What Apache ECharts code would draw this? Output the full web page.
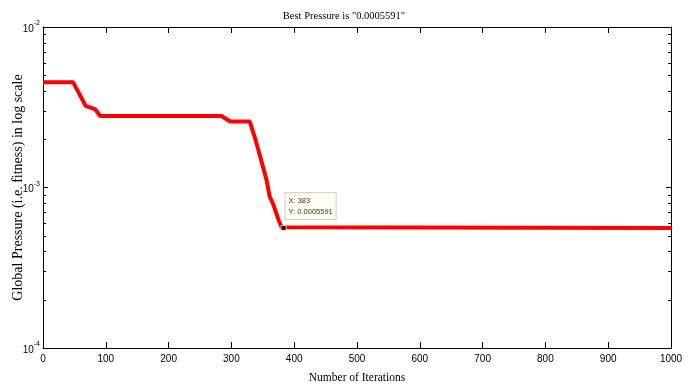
<!DOCTYPE html>
<html>
<head>
<meta charset="utf-8">
<script src="https://cdn.jsdelivr.net/npm/echarts@6/dist/echarts.min.js"></script>
<style>
  html, body { margin: 0; padding: 0; background: #fff; }
  #chart { width: 688px; height: 387px; }
</style>
</head>
<body>
<div id="chart"></div>
<script>
// Convergence history: best global pressure per iteration (log scale)
const iterations = [0, 48, 68, 75, 83, 91, 284, 298, 329, 337, 345, 348, 356, 361, 367, 375, 380, 383, 1000];
const bestPressure = [0.00452, 0.00452, 0.00322, 0.00316, 0.00307, 0.00279, 0.00279, 0.00258, 0.00258,
                      0.00207, 0.00160, 0.00145, 0.00111, 0.000877, 0.000778, 0.000628, 0.000565, 0.0005591, 0.0005591];

// Data tip at the best value
const tipIteration = 383;
const tipValue = 0.0005591;

// Axis ranges and ticks
const xMin = 0, xMax = 1000, xStep = 100;
const yMin = 1e-4, yMax = 1e-2;
const yDecades = [-4, -3, -2];
const yMinorMultipliers = [2, 3, 4, 5, 6, 7, 8, 9];

const titleText = 'Best Pressure is "0.0005591"';
const xName = 'Number of Iterations';
const yName = 'Global Pressure (i.e. fitness) in log scale';

const lineData = iterations.map((x, i) => [x, bestPressure[i]]);

// minor tick values between decades (2..9 x 10^k), one item per frame edge
const minorTickItems = [];
for (let k = yDecades[0]; k < yDecades[yDecades.length - 1]; k++) {
  yMinorMultipliers.forEach(m => {
    const v = m * Math.pow(10, k);
    minorTickItems.push([xMin, v]);
    minorTickItems.push([xMax, v]);
  });
}

const serif = '"Liberation Serif", "Times New Roman", serif';
const sans = '"Liberation Sans Narrow", "Liberation Sans", Arial, sans-serif';

const chart = echarts.init(document.getElementById('chart'), null, { renderer: 'canvas' });

const axisLine = { show: true, onZero: false, lineStyle: { color: '#000', width: 1 } };

chart.setOption({
  backgroundColor: '#fff',
  animation: false,
  title: {
    text: titleText,
    left: 'center',
    top: 6,
    textStyle: { fontFamily: serif, fontSize: 10.5, fontWeight: 'normal', color: '#000' }
  },
  grid: { left: 43, right: 17, top: 27, bottom: 39, containLabel: false, outerBoundsMode: 'none' },
  xAxis: [
    {
      type: 'value', min: xMin, max: xMax, interval: xStep,
      position: 'bottom',
      name: xName, nameLocation: 'middle', nameGap: 24, nameMoveOverlap: false,
      nameTextStyle: { fontFamily: serif, fontSize: 11.5, color: '#000' },
      axisLine: axisLine,
      axisTick: { show: true, inside: true, length: 6, lineStyle: { color: '#000' } },
      axisLabel: { fontFamily: sans, fontSize: 10, color: '#000', margin: 6, formatter: v => String(v) },
      splitLine: { show: false }
    },
    {
      type: 'value', min: xMin, max: xMax, interval: xStep,
      position: 'top',
      axisLine: axisLine,
      axisTick: { show: true, inside: true, length: 6, lineStyle: { color: '#000' } },
      axisLabel: { show: false },
      splitLine: { show: false }
    }
  ],
  yAxis: [
    {
      type: 'log', logBase: 10, min: yMin, max: yMax,
      position: 'left',
      name: yName, nameLocation: 'middle', nameGap: 18, nameRotate: 90, nameMoveOverlap: false,
      nameTextStyle: { fontFamily: serif, fontSize: 14, color: '#000' },
      axisLine: axisLine,
      axisTick: { show: true, inside: true, length: 5, lineStyle: { color: '#000' } },
      axisLabel: {
        margin: 3,
        formatter: v => '{b|10}{s|' + Math.round(Math.log10(v)) + '}',
        rich: {
          b: { fontFamily: sans, fontSize: 10, color: '#000', verticalAlign: 'bottom', lineHeight: 14 },
          s: { fontFamily: sans, fontSize: 7, color: '#000', verticalAlign: 'top', lineHeight: 14 }
        }
      },
      splitLine: { show: false }
    },
    {
      type: 'log', logBase: 10, min: yMin, max: yMax,
      position: 'right',
      axisLine: axisLine,
      axisTick: { show: true, inside: true, length: 5, lineStyle: { color: '#000' } },
      axisLabel: { show: false },
      splitLine: { show: false }
    }
  ],
  series: [
    {
      // minor log ticks pointing inward from the left and right frame edges
      type: 'custom',
      coordinateSystem: 'cartesian2d',
      silent: true,
      clip: false,
      xAxisIndex: 0,
      yAxisIndex: 0,
      data: minorTickItems,
      z: 6,
      renderItem: (params, api) => {
        const x = api.value(0);
        const p = api.coord([x, api.value(1)]);
        const dir = x === xMin ? 1 : -1;
        const y = Math.round(p[1]) + 0.5;
        return {
          type: 'line',
          shape: { x1: p[0], y1: y, x2: p[0] + dir * 3, y2: y },
          style: { stroke: '#000', lineWidth: 1 }
        };
      }
    },
    {
      type: 'line',
      data: lineData,
      showSymbol: false,
      symbol: 'none',
      lineStyle: { color: '#ff0000', width: 4 },
      z: 3
    },
    {
      type: 'scatter',
      data: [[tipIteration, tipValue]],
      symbol: 'rect',
      symbolSize: 5,
      itemStyle: { color: '#000', borderColor: '#f5f0c8', borderWidth: 1 },
      z: 5,
      label: {
        show: true,
        position: [5, -32],
        formatter: 'X: ' + tipIteration + '\nY: ' + tipValue,
        fontFamily: sans,
        fontSize: 7.5,
        lineHeight: 11,
        color: '#000',
        backgroundColor: '#ffffee',
        borderColor: '#c8c8c8',
        borderWidth: 1,
        padding: [2, 3, 2, 3]
      }
    }
  ]
});
</script>
</body>
</html>
